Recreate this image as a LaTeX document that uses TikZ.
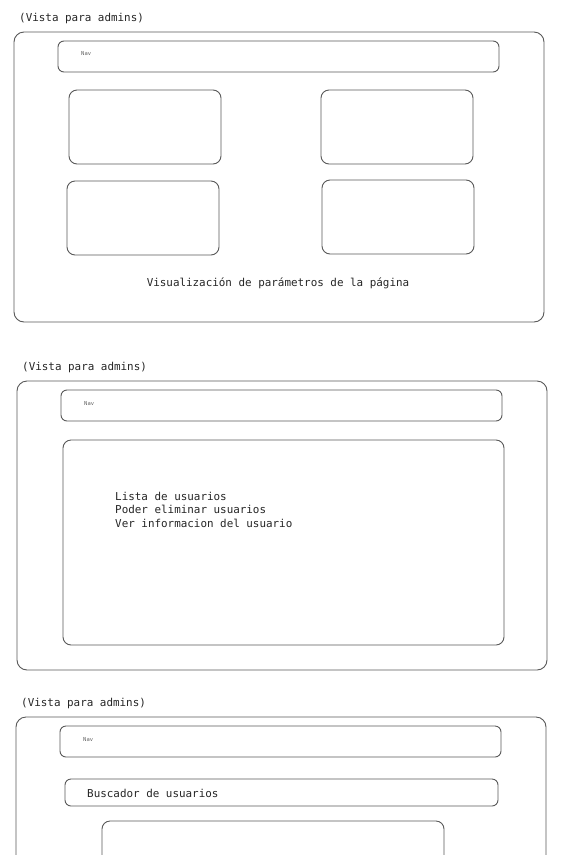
\documentclass[tikz,border=0pt]{standalone}
\usepackage{fontspec}
\setmonofont{DejaVu Sans Mono}
\begin{document}
\begin{tikzpicture}[x=1pt,y=-1pt,
  frame/.style={draw=black!65,line width=0.9pt,rounded corners=10pt},
  bar/.style={draw=black!65,line width=0.9pt,rounded corners=6pt},
  card/.style={draw=black!65,line width=0.9pt,rounded corners=8pt},
  lbl/.style={inner sep=0pt,anchor=west,text=black!85,font=\ttfamily\fontsize{10.9}{13.5}\selectfont},
  navlbl/.style={inner sep=0pt,anchor=west,text=black!60,font=\ttfamily\fontsize{5.5}{6}\selectfont}]
\useasboundingbox (0,0) rectangle (564,855);
\fill[white] (0,0) rectangle (564,855);
\clip (0,0) rectangle (564,855);
% ---- view 1
\node[lbl] (t1) at (19,18) {(Vista para admins)};
\draw[frame] (14,32) rectangle (544,322);
\draw[bar] (58,41) rectangle (499,72);
\node[navlbl] (n1) at (81,54) {Nav};
\draw[card] (69,90) rectangle (221,164);
\draw[card] (321,90) rectangle (473,164);
\draw[card] (67,181) rectangle (219,255);
\draw[card] (322,180) rectangle (474,254);
\node[lbl,anchor=center] (p1) at (278,283) {Visualización de parámetros de la página};
% ---- view 2
\node[lbl] (t2) at (22,367) {(Vista para admins)};
\draw[frame] (17,381) rectangle (547,670);
\draw[bar] (61,390) rectangle (502,421);
\node[navlbl] (n2) at (84,404) {Nav};
\draw[card] (63,440) rectangle (504,645);
\node[lbl,anchor=north west,align=left] (u2) at (115,492) {Lista de usuarios\\Poder eliminar usuarios\\Ver informacion del usuario};
% ---- view 3
\node[lbl] (t3) at (21,703) {(Vista para admins)};
\draw[frame] (16,717) rectangle (546,900);
\draw[bar] (60,726) rectangle (501,757);
\node[navlbl] (n3) at (83,740) {Nav};
\draw[bar] (65,779) rectangle (498,806);
\node[lbl] (s3) at (87,793) {Buscador de usuarios};
\draw[card] (102,821) rectangle (444,900);
\end{tikzpicture}
\end{document}
